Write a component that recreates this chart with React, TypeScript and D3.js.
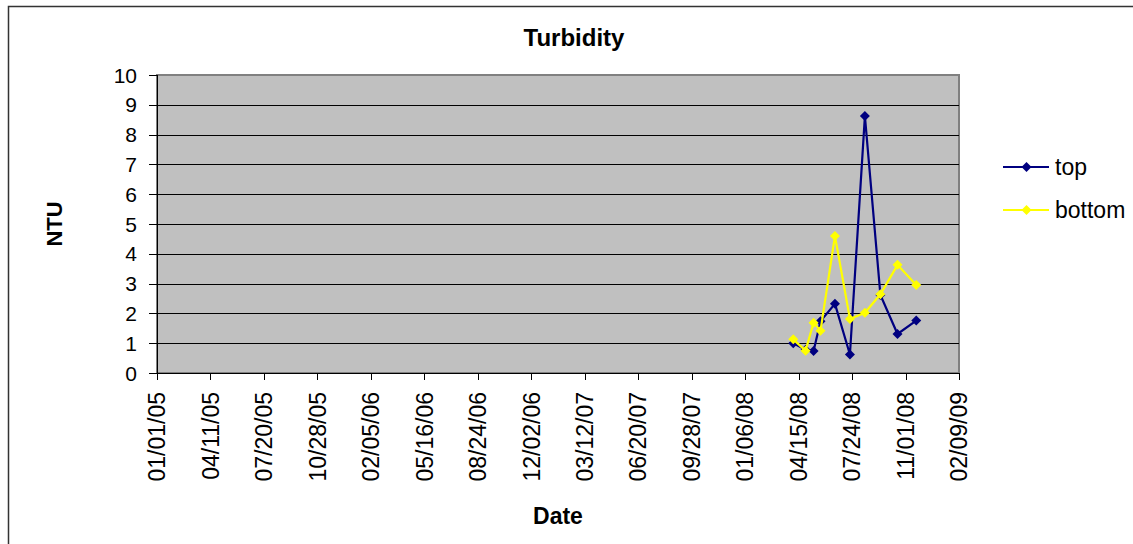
import React from "react";
import * as d3 from "d3";

// Sampling dates (MM/DD/YYYY) and turbidity readings in NTU
const sampleDates = [
  "04/05/2008", "04/28/2008", "05/13/2008", "05/26/2008", "06/22/2008",
  "07/20/2008", "08/17/2008", "09/15/2008", "10/17/2008", "11/21/2008",
];
const topValues = [1.0, 0.78, 0.74, 1.74, 2.32, 0.62, 8.62, 2.62, 1.31, 1.76];
const bottomValues = [1.13, 0.75, 1.69, 1.42, 4.6, 1.81, 2.02, 2.64, 3.63, 2.95];

const xTickLabels = [
  "01/01/05", "04/11/05", "07/20/05", "10/28/05", "02/05/06", "05/16/06",
  "08/24/06", "12/02/06", "03/12/07", "06/20/07", "09/28/07", "01/06/08",
  "04/15/08", "07/24/08", "11/01/08", "02/09/09",
];
const yTicks = [0, 1, 2, 3, 4, 5, 6, 7, 8, 9, 10];

const seriesNames = ["top", "bottom"];
const seriesColors = ["#000080", "#FFFF00"];

const parseLong = d3.utcParse("%m/%d/%Y");
const parseShort = d3.utcParse("%m/%d/%y");

const W = 1133;
const H = 544;
const plot = { left: 157, right: 959, top: 75, bottom: 373 };
const FONT = "Arial, 'Liberation Sans', sans-serif";

function Diamond({ x, y, color }: { x: number; y: number; color: string }) {
  const r = 5;
  return (
    <path
      d={`M${x},${y - r}L${x + r},${y}L${x},${y + r}L${x - r},${y}Z`}
      fill={color}
    />
  );
}

export default function App() {
  const tickDates = xTickLabels.map((t) => parseShort(t) as Date);
  const x = d3
    .scaleUtc()
    .domain([tickDates[0], tickDates[tickDates.length - 1]])
    .range([plot.left, plot.right]);
  const y = d3.scaleLinear().domain([0, 10]).range([plot.bottom, plot.top]);

  const dates = sampleDates.map((s) => parseLong(s) as Date);
  const series = [topValues, bottomValues].map((vals) =>
    vals.map((v, i) => ({ d: dates[i], v }))
  );
  const line = d3
    .line<{ d: Date; v: number }>()
    .x((p) => x(p.d))
    .y((p) => y(p.v));

  const legendY = [167, 210];

  return (
    <svg
      width={W}
      height={H}
      style={{ position: "absolute", left: 0, top: 0, background: "#fff" }}
      fontFamily={FONT}
    >
      <rect x={0} y={0} width={W} height={H} fill="#fff" />
      {/* chart frame */}
      <rect x={8.5} y={6.5} width={1140} height={560} fill="none" stroke="#333" strokeWidth={1.5} />

      <text x={574} y={46} textAnchor="middle" fontSize={24} fontWeight="bold">
        Turbidity
      </text>

      {/* plot area */}
      <rect
        x={plot.left}
        y={plot.top}
        width={plot.right - plot.left}
        height={plot.bottom - plot.top}
        fill="#C0C0C0"
        stroke="#808080"
        strokeWidth={2}
      />
      {yTicks
        .filter((t) => t > 0 && t < 10)
        .map((t) => (
          <line
            key={"g" + t}
            x1={plot.left}
            x2={plot.right}
            y1={Math.round(y(t)) + 0.5}
            y2={Math.round(y(t)) + 0.5}
            stroke="#000"
            strokeWidth={1}
          />
        ))}

      {/* y axis */}
      <line x1={plot.left + 0.5} x2={plot.left + 0.5} y1={plot.top} y2={plot.bottom} stroke="#000" />
      {yTicks.map((t) => (
        <g key={"y" + t}>
          <line
            x1={plot.left - 8}
            x2={plot.left}
            y1={Math.round(y(t)) + 0.5}
            y2={Math.round(y(t)) + 0.5}
            stroke="#000"
          />
          <text x={137} y={y(t)} dy="0.36em" textAnchor="end" fontSize={21}>
            {t}
          </text>
        </g>
      ))}

      {/* x axis */}
      <line x1={plot.left} x2={plot.right} y1={plot.bottom + 0.5} y2={plot.bottom + 0.5} stroke="#000" />
      {tickDates.map((d, i) => {
        const tx = Math.round(x(d)) + 0.5;
        return (
          <g key={"x" + i}>
            <line x1={tx} x2={tx} y1={plot.bottom} y2={plot.bottom + 7} stroke="#000" />
            <text
              transform={`translate(${x(d)},392) rotate(-90)`}
              dy="0.36em"
              textAnchor="end"
              fontSize={23}
            >
              {xTickLabels[i]}
            </text>
          </g>
        );
      })}

      {/* series */}
      {series.map((pts, si) => (
        <g key={"s" + si}>
          <path d={line(pts) || ""} fill="none" stroke={seriesColors[si]} strokeWidth={2.2} />
          {pts.map((p, i) => (
            <Diamond key={i} x={x(p.d)} y={y(p.v)} color={seriesColors[si]} />
          ))}
        </g>
      ))}

      {/* axis titles */}
      <text x={558} y={524} textAnchor="middle" fontSize={23} fontWeight="bold">
        Date
      </text>
      <text
        transform={`translate(54,224) rotate(-90)`}
        dy="0.36em"
        textAnchor="middle"
        fontSize={22}
        fontWeight="bold"
      >
        NTU
      </text>

      {/* legend */}
      {seriesNames.map((name, i) => (
        <g key={"l" + i}>
          <line x1={1003} x2={1049} y1={legendY[i]} y2={legendY[i]} stroke={seriesColors[i]} strokeWidth={2} />
          <Diamond x={1026.5} y={legendY[i]} color={seriesColors[i]} />
          <text x={1055} y={legendY[i]} dy="0.36em" fontSize={23}>
            {name}
          </text>
        </g>
      ))}
    </svg>
  );
}
